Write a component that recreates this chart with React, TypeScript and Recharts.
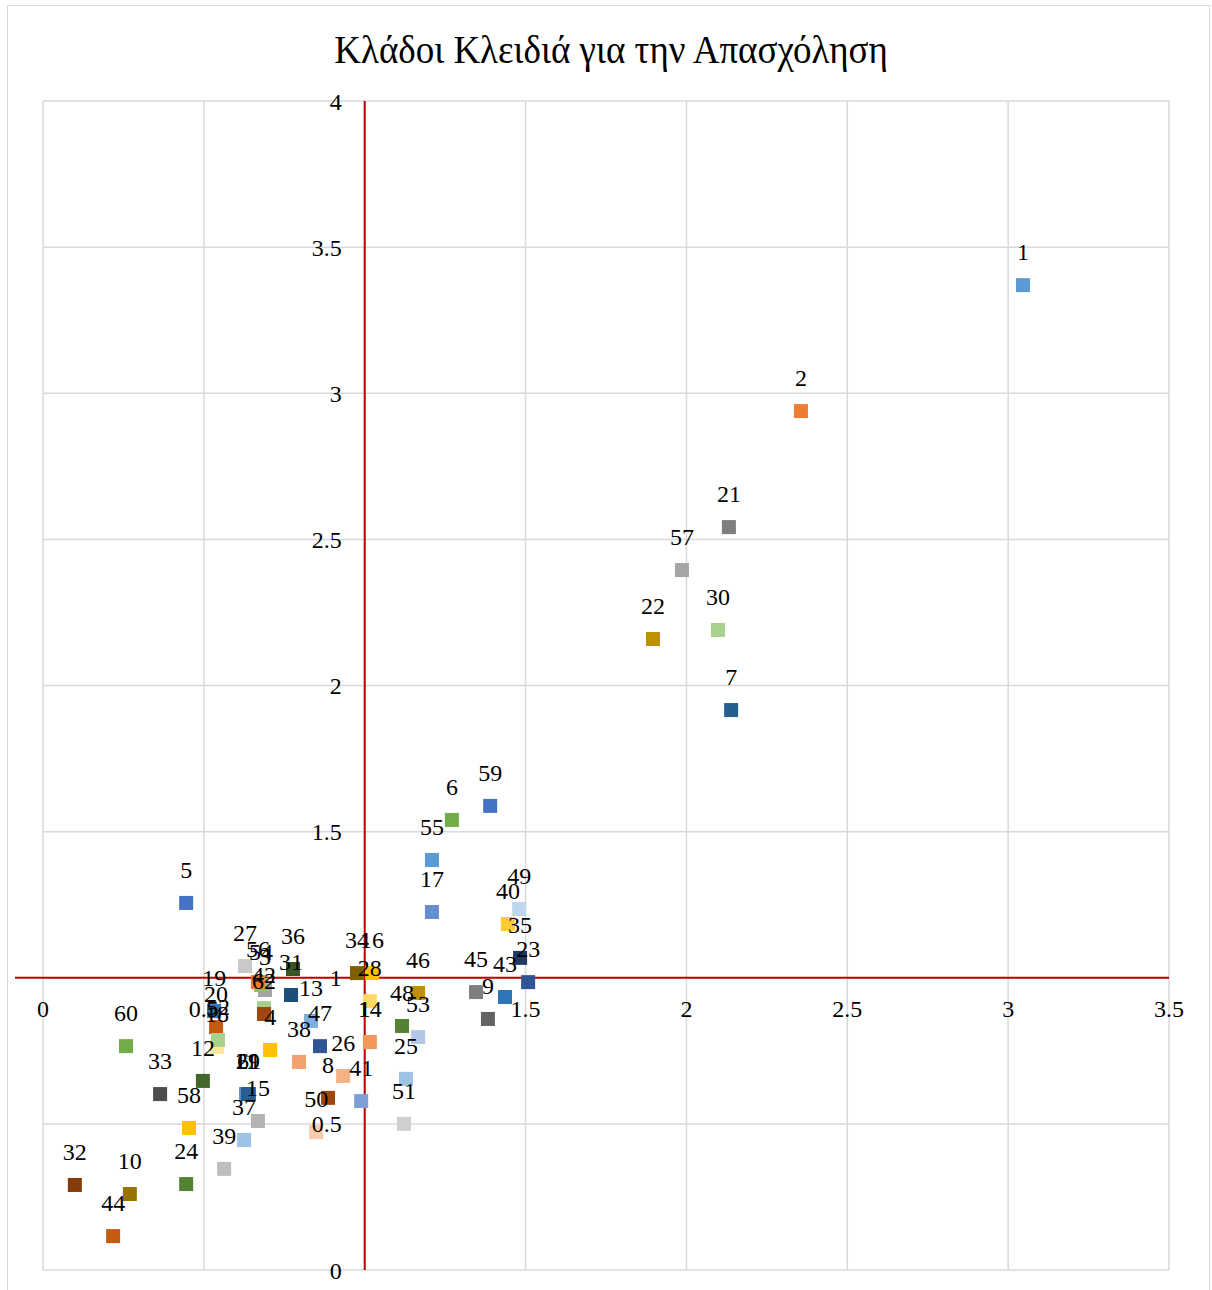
import React from 'react';
import {
  ScatterChart,
  Scatter,
  XAxis,
  YAxis,
  CartesianGrid,
  ReferenceLine,
  ReferenceDot,
  LabelList,
} from 'recharts';

const chartTitle = 'Κλάδοι Κλειδιά για την Απασχόληση';

const pointIds = [
  1, 2, 3, 4, 5, 6, 7, 8, 9, 10, 11, 12, 13, 14, 15, 16, 17, 18, 19, 20, 21, 22, 23, 24, 25, 26, 27, 28, 29, 30, 31,
  32, 33, 34, 35, 36, 37, 38, 39, 40, 41, 42, 43, 44, 45, 46, 47, 48, 49, 50, 51, 52, 53, 54, 55, 56, 57, 58, 59, 60,
  61, 62,
];

const xValues = [
  3.046, 2.356, 0.69, 0.706, 0.445, 1.271, 2.139, 0.886, 1.383, 0.27, 0.631, 0.497, 0.833, 1.016, 0.668, 1.023, 1.209,
  0.541, 0.532, 0.538, 2.132, 1.896, 1.508, 0.445, 1.128, 0.933, 0.628, 1.016, 0.637, 2.098, 0.771, 0.099, 0.364, 0.976,
  1.483, 0.777, 0.625, 0.796, 0.563, 1.445, 0.989, 0.687, 1.436, 0.218, 1.346, 1.166, 0.861, 1.116, 1.48, 0.849, 1.122,
  0.544, 1.166, 0.678, 1.209, 0.668, 1.986, 0.454, 1.39, 0.258, 0.64, 0.687,
];

const yValues = [
  3.37, 2.939, 0.958, 0.753, 1.256, 1.54, 1.916, 0.589, 0.859, 0.26, 0.602, 0.647, 0.852, 0.78, 0.51, 1.016, 1.225,
  0.763, 0.886, 0.831, 2.542, 2.159, 0.985, 0.294, 0.654, 0.664, 1.04, 0.92, 0.602, 2.19, 0.941, 0.291, 0.602, 1.016,
  1.068, 1.03, 0.445, 0.712, 0.346, 1.184, 0.578, 0.896, 0.934, 0.116, 0.951, 0.948, 0.766, 0.835, 1.235, 0.472, 0.5,
  0.787, 0.797, 0.975, 1.403, 0.985, 2.395, 0.486, 1.588, 0.766, 0.602, 0.876,
];

const pointColors = [
  '#5B9BD5', '#ED7D31', '#A5A5A5', '#FFC000', '#4472C4', '#70AD47', '#255E91', '#9E480E', '#636363', '#997300',
  '#698ED0', '#43682B', '#7CAFDD', '#F1975A', '#B4B4B4', '#FFC000', '#698ED0', '#FFE699', '#2E75B6', '#C55A11',
  '#7F7F7F', '#BF9000', '#2F5597', '#548235', '#9DC3E6', '#F4B183', '#C9C9C9', '#FFD966', '#255E91', '#A9D18E',
  '#1F4E79', '#843C0C', '#4D4D4D', '#7F6000', '#203864', '#375623', '#9DC3E6', '#F1A26E', '#BFBFBF', '#FFCD33',
  '#7E9ED8', '#A9D18E', '#2E75B6', '#C55A11', '#7F7F7F', '#BF9000', '#2F5597', '#548235', '#BDD7EE', '#F8CBAD',
  '#D0D0D0', '#A9D18E', '#B4C7E7', '#8CC168', '#5B9BD5', '#ED7D31', '#A5A5A5', '#FFC000', '#4472C4', '#70AD47',
  '#255E91', '#9E480E',
];

const xTicks = [0, 0.5, 1, 1.5, 2, 2.5, 3, 3.5];
const yTicks = [0, 0.5, 1, 1.5, 2, 2.5, 3, 3.5, 4];
const crossX = 1;
const crossY = 1;
const horizontalLineStart = -0.087;

const data = pointIds.map((id, i) => ({ id, x: xValues[i], y: yValues[i], color: pointColors[i] }));

const FONT = '"Liberation Serif", "Times New Roman", serif';

const SquareMarker = (props: any) => {
  const { cx, cy, payload } = props;
  if (cx == null || cy == null) return null;
  return <rect x={cx - 7} y={cy - 7} width={14} height={14} fill={payload.color} />;
};

const PointLabel = (props: any) => {
  const { x, y, width, height, value } = props;
  if (x == null || y == null) return null;
  const cx = x + (width || 0) / 2;
  const cy = y + (height || 0) / 2;
  return (
    <text x={cx} y={cy - 25} textAnchor="middle" fontSize={24} fontFamily={FONT} fill="#000">
      {value}
    </text>
  );
};

export default function App() {
  return (
    <div style={{ position: 'absolute', left: 0, top: 0, width: 1212, height: 1290, background: '#fff', overflow: 'hidden' }}>
      <div
        style={{
          position: 'absolute',
          left: 7,
          top: 5,
          width: 1203,
          height: 1300,
          border: '1.5px solid #D9D9D9',
          boxSizing: 'border-box',
        }}
      />
      <div
        style={{
          position: 'absolute',
          left: 0,
          top: 26,
          width: 1222,
          textAlign: 'center',
          fontFamily: FONT,
          fontSize: 37,
          lineHeight: '48px',
          color: '#000',
          transform: 'scaleY(1.08)',
        }}
      >
        {chartTitle}
      </div>
      <div style={{ position: 'absolute', left: 0, top: 0 }}>
        <ScatterChart width={1212} height={1290} margin={{ top: 101, right: 43, bottom: 20, left: 43 }}>
          <CartesianGrid stroke="#D9D9D9" strokeWidth={1.5} />
          <XAxis type="number" dataKey="x" domain={[0, 3.5]} ticks={xTicks} hide />
          <YAxis type="number" dataKey="y" domain={[0, 4]} ticks={yTicks} hide />
          <ReferenceLine x={crossX} stroke="#C00000" strokeWidth={2} />
          <ReferenceLine
            segment={[
              { x: horizontalLineStart, y: crossY },
              { x: 3.5, y: crossY },
            ]}
            ifOverflow="visible"
            stroke="#C00000"
            strokeWidth={2}
          />
          {xTicks.map((t) => (
            <ReferenceDot
              key={'xt' + t}
              x={t}
              y={crossY}
              r={0}
              fill="none"
              stroke="none"
              label={{ value: String(t), position: 'bottom', offset: 22, fill: '#000', fontSize: 24, fontFamily: FONT }}
            />
          ))}
          {yTicks.map((t) => (
            <ReferenceDot
              key={'yt' + t}
              x={crossX}
              y={t}
              r={0}
              fill="none"
              stroke="none"
              label={{ value: String(t), position: 'left', offset: 23, fill: '#000', fontSize: 24, fontFamily: FONT }}
            />
          ))}
          <Scatter data={data} shape={<SquareMarker />} isAnimationActive={false}>
            <LabelList dataKey="id" content={<PointLabel />} />
          </Scatter>
        </ScatterChart>
      </div>
    </div>
  );
}
